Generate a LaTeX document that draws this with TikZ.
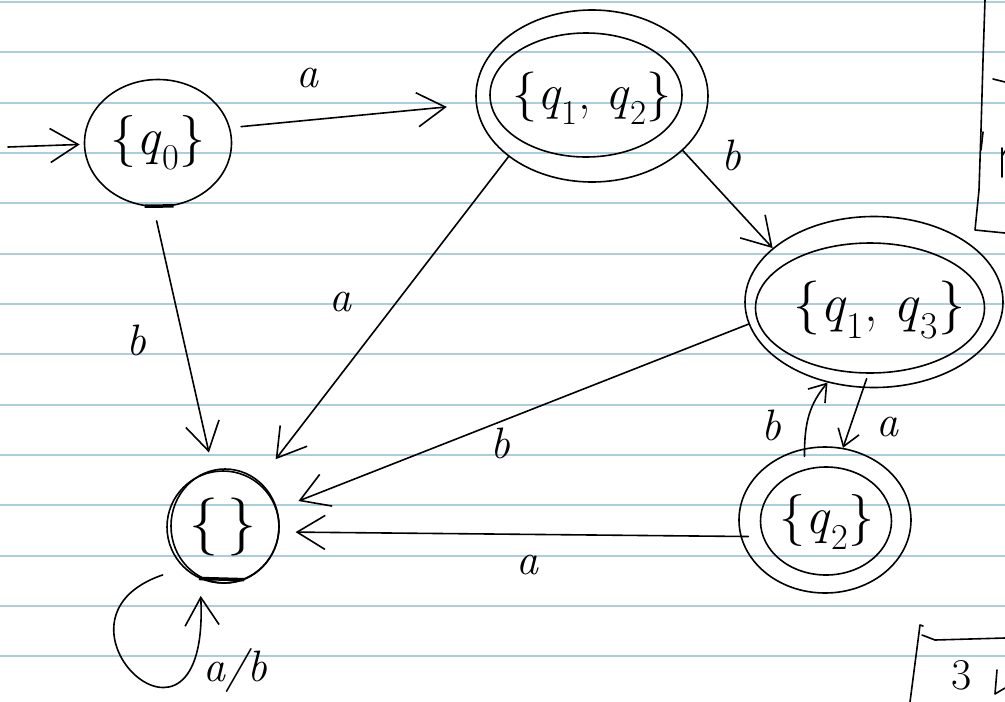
\documentclass[tikz,border=0pt]{standalone}
\usepackage{fontspec}
\usetikzlibrary{shapes.geometric,arrows.meta}
\definecolor{ruled}{RGB}{172,205,219}
\newcommand{\qs}[1]{\textit{q}\textsubscript{#1}}
\begin{document}
\begin{tikzpicture}[x=1pt,y=-1pt,
  ink/.style={line width=1.6pt,black,line cap=round,line join=round},
  st/.style={ellipse,draw,ink,inner sep=0pt,font=\fontsize{52}{56}\selectfont},
  inner/.style={ellipse,draw,ink,inner sep=0pt},
  lbl/.style={font=\fontsize{44}{48}\selectfont\itshape,inner sep=0pt},
  arr/.style={ink,-{Straight Barb[length=28pt,width=34pt,line width=1.6pt]}},
  arrs/.style={ink,-{Straight Barb[length=16pt,width=22pt,line width=1.6pt]}}]
\useasboundingbox (0,0) rectangle (1005,702);
\fill[white] (0,0) rectangle (1005,702);
% ruled paper
\foreach \k in {0,...,13}
  \draw[ruled,line width=2.2pt] (0,{2+50.33*\k}) -- (1005,{2+50.33*\k});

% states
\node[st,minimum width=147pt,minimum height=127pt] (q0) at (158,143) {\{\qs{0}\}};
\node[st,minimum width=232pt,minimum height=172pt] (q12) at (592,96) {};
\node[inner,minimum width=192pt,minimum height=124pt] (q12i) at (586,95) {};
\node[inner sep=0pt,font=\fontsize{50}{54}\selectfont] (t12) at (592,98) {\{\qs{1}, \qs{2}\}};
\node[st,minimum width=258pt,minimum height=171pt] (q13) at (874,302) {};
\node[inner,minimum width=229pt,minimum height=130pt] (q13i) at (870,308) {};
\node[inner sep=0pt,font=\fontsize{54}{58}\selectfont] (t13) at (879,310) {\{\qs{1}, \qs{3}\}};
\node[st,minimum width=172pt,minimum height=146pt] (q2) at (825,520) {};
\node[inner,minimum width=131pt,minimum height=108pt] (q2i) at (826,521) {};
\node[inner sep=0pt,font=\fontsize{52}{56}\selectfont] (t2) at (827,522) {\{\qs{2}\}};
\node[st,minimum width=112pt,minimum height=112pt,font=\fontsize{58}{60}\selectfont] (e) at (223,527) {\{\,\}};
\node[inner,minimum width=108pt,minimum height=114pt] (e2) at (225,526) {};
\draw[line width=3.5pt] (q0.258) -- (q0.284);
\draw[line width=3.5pt] (e.245) -- (e.292);

% start arrow
\coordinate (s) at (8,147);
\draw[arr,shorten >=4pt] (s) -- (q0.181);

% transitions
\draw[arr,shorten <=11pt,shorten >=29pt] (q0.12) -- (q12.184);
\node[lbl] (la1) at (307,78) {a};
\draw[arr,shorten <=14pt,shorten >=19pt] (q0.266) -- (e.100);
\node[lbl] (lb1) at (136,340) {b};
\draw[arr,shorten >=29pt] (q12.216) -- (e.52);
\node[lbl] (la2) at (340,302) {a};
\draw[arr] (q12.329) -- (q13.152);
\node[lbl] (lb2) at (731,155) {b};
\draw[arr,shorten >=23pt] (q13.190) -- (e.18);
\node[lbl] (lb3) at (500,443) {b};
\draw[arr,shorten <=-8pt,shorten >=16pt] (q2.191) -- (e.-5);
\node[lbl] (la3) at (527,565) {a};
\draw[arrs,shorten <=-8pt] (q2.106) to[bend left=20] (q13.240);
\node[lbl] (lb4) at (771,425) {b};
\draw[arrs,shorten <=-10pt] (q13.263) -- (q2.76);
\node[lbl] (la4) at (887,427) {a};
\draw[arr,shorten <=22pt,shorten >=17pt] (e.226) .. controls (30,620) and (210,790) .. (e.246);
\node[lbl] (lab) at (235,670) {a/b};

% margin marks on the right
\draw[ink] (985,0) -- (983,60) -- (981,130) -- (979,190) -- (975,230) -- (1005,233);
\draw[ink] (983,132) -- (981,150);
\draw[ink] (993,79) -- (1005,82);
\draw[ink] (1002,177) -- (1002,148) (1002,156) -- (1005,151);
\draw[ink] (923,626) -- (920,625) -- (910,702);
\draw[ink] (922,635) -- (935,640) -- (1005,638);
\node[inner sep=0pt,font=\fontsize{44}{46}\selectfont] (three) at (962,675) {3};
\draw[ink] (997,670) -- (995,694) (995,694) -- (1005,688);
\end{tikzpicture}
\end{document}
